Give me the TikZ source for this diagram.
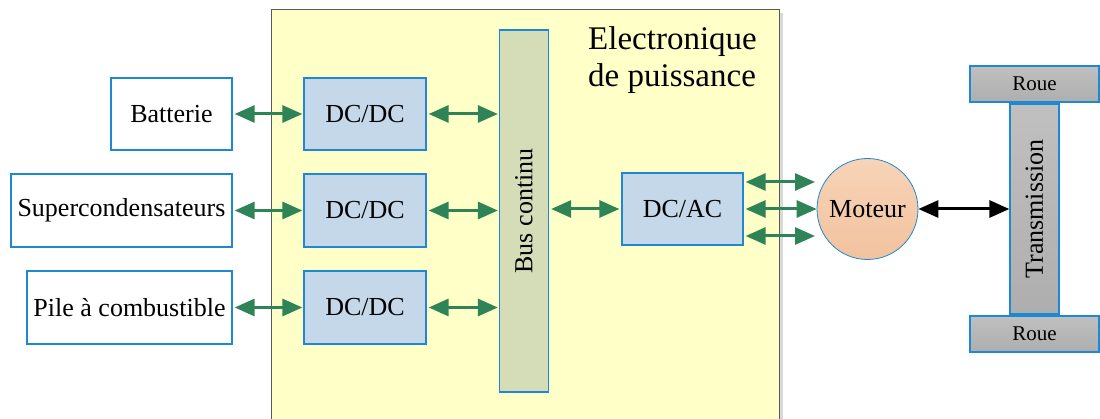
\documentclass[tikz,border=0pt]{standalone}
\usepackage{fontspec}
\setmainfont{Liberation Serif}
\usetikzlibrary{arrows.meta}
\definecolor{bordblue}{RGB}{30,136,208}
\definecolor{dcfill}{RGB}{197,216,234}
\definecolor{busfill}{RGB}{212,221,184}
\definecolor{graytop}{RGB}{192,192,192}
\definecolor{graybot}{RGB}{174,174,174}
\definecolor{mottop}{RGB}{247,212,184}
\definecolor{motbot}{RGB}{242,194,158}
\definecolor{yellowfill}{RGB}{255,255,200}
\definecolor{arrgreen}{RGB}{46,132,86}
\tikzset{
  box/.style={draw=bordblue,line width=1.3pt,rectangle,inner sep=0pt,font=\fontsize{26}{30}\selectfont},
  srcbox/.style={box,fill=white},
  convbox/.style={box,fill=dcfill},
  graybox/.style={box,top color=graytop,bottom color=graybot},
  garrow/.style={draw=arrgreen,line width=3pt,{Triangle[length=20pt,width=17pt]}-{Triangle[length=20pt,width=17pt]}},
  karrow/.style={draw=black,line width=3pt,{Triangle[length=20pt,width=17pt]}-{Triangle[length=20pt,width=17pt]}},
}
\begin{document}
\begin{tikzpicture}[x=1pt,y=-1pt]
\useasboundingbox (0,0) rectangle (1100,419);
% power electronics area
\fill[black!15] (779,13) rectangle (783,419);
\fill[yellowfill] (271,10) rectangle (779,419);
\draw[black!65,line width=1pt] (271,419) -- (271,10) -- (779,10) -- (779,419);
\node[anchor=north west,align=left,font=\fontsize{33}{37}\selectfont,inner sep=0pt] (title) at (588,26) {Electronique\\de puissance};
% sources
\node[srcbox,minimum width=121pt,minimum height=72pt] (bat) at (171.5,114) {Batterie};
\node[srcbox,minimum width=221pt,minimum height=73pt] (sup) at (121.5,210.5) {Supercondensateurs};
\node[srcbox,minimum width=205pt,minimum height=73pt] (pile) at (129.5,307.5) {Pile à combustible};
% converters
\node[convbox,minimum width=122pt,minimum height=72pt] (dc1) at (365,114) {DC/DC};
\node[convbox,minimum width=122pt,minimum height=73pt] (dc2) at (365,210.5) {DC/DC};
\node[convbox,minimum width=122pt,minimum height=73pt] (dc3) at (365,307.5) {DC/DC};
% bus
\node[box,fill=busfill,minimum width=49pt,minimum height=362pt] (bus) at (524,211) {};
\node[rotate=90,font=\fontsize{26}{30}\selectfont,inner sep=0pt] (buslbl) at (bus.center) {Bus continu};
% inverter
\node[convbox,minimum width=121pt,minimum height=72pt] (dcac) at (682.5,209) {DC/AC};
% motor
\node[circle,draw=bordblue,line width=0.8pt,top color=mottop,bottom color=motbot,minimum size=101pt,inner sep=0pt,font=\fontsize{26}{30}\selectfont] (mot) at (867.5,209) {Moteur};
% transmission and wheels
\node[graybox,minimum width=49pt,minimum height=210pt] (trans) at (1034.5,209) {};
\node[rotate=90,font=\fontsize{26}{30}\selectfont,inner sep=0pt] (translbl) at (trans.center) {Transmission};
\node[graybox,minimum width=129pt,minimum height=36pt,font=\fontsize{21}{25}\selectfont] (roue1) at (1034.5,84) {Roue};
\node[graybox,minimum width=129pt,minimum height=36pt,font=\fontsize{21}{25}\selectfont] (roue2) at (1034.5,334) {Roue};
% connectors
\draw[garrow] ([xshift=2pt]bat.east) -- ([xshift=-1pt]dc1.west);
\draw[garrow] ([xshift=2pt]sup.east) -- ([xshift=-1pt]dc2.west);
\draw[garrow] ([xshift=2pt]pile.east) -- ([xshift=-1pt]dc3.west);
\draw[garrow] ([xshift=2pt]dc1.east) -- ([xshift=-1pt]bus.west |- dc1.east);
\draw[garrow] ([xshift=2pt]dc2.east) -- ([xshift=-1pt]bus.west |- dc2.east);
\draw[garrow] ([xshift=2pt]dc3.east) -- ([xshift=-1pt]bus.west |- dc3.east);
\draw[garrow] ([xshift=2pt]bus.east |- dcac.west) -- ([xshift=-2pt]dcac.west);
\coordinate (m1) at (815,182);
\coordinate (m3) at (815,236);
\draw[garrow] ([xshift=2pt]dcac.east |- m1) -- (m1);
\draw[garrow] ([xshift=2pt]dcac.east) -- (mot.west);
\draw[garrow] ([xshift=2pt]dcac.east |- m3) -- (m3);
\draw[karrow] (mot.east) -- (trans.west |- mot.east);
\end{tikzpicture}
\end{document}
